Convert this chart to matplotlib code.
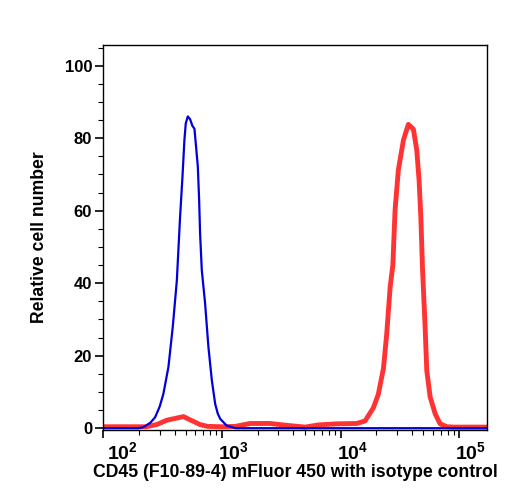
"""
Flow cytometry overlay: CD45 (F10-89-4) mFluor 450 vs isotype control.
Values read off the reference picture (log x axis).
"""

import numpy as np
import matplotlib

matplotlib.use("Agg")
import matplotlib.pyplot as plt
import matplotlib.transforms as mtrans
from matplotlib.ticker import LogLocator, MultipleLocator, NullFormatter

plt.rcParams["font.family"] = ["Liberation Sans", "DejaVu Sans"]
plt.rcParams["mathtext.fontset"] = "custom"
plt.rcParams["mathtext.rm"] = "Liberation Sans:bold"
plt.rcParams["mathtext.bf"] = "Liberation Sans:bold"

# isotype control (blue)
iso_x = [100, 200, 219, 250, 274, 300, 322, 355, 386, 418, 445, 466, 484, 497,
         517, 541, 565, 588, 607, 628, 644, 656, 678, 723, 771, 824, 879, 925,
         968, 1100, 1300, 175000]
iso_y = [0.0, 0.0, 0.3, 1.5, 3.0, 6.0, 9.5, 16.9, 27.9, 40.8, 58.3, 69.3, 79.5,
         84.1, 86.0, 85.2, 83.4, 82.6, 77.6, 72.1, 62.9, 53.7, 43.6, 34.4, 22.4,
         13.2, 6.7, 4.0, 2.6, 0.7, 0.0, 0.0]

# CD45 stained (red)
cd45_x = [100, 230, 283, 344, 418, 475, 541, 656, 760, 1000, 1300, 1730, 2550,
          3500, 5040, 6500, 9300, 13700, 16100, 18900, 20800, 23000, 24500,
          26200, 27600, 28800, 30700, 33900, 37300, 41100, 43900, 45900, 47500,
          49000, 51600, 53300, 56900, 62700, 69000, 78700, 90000, 175000]
cd45_y = [0.4, 0.4, 1.0, 2.2, 2.8, 3.2, 2.3, 1.0, 0.5, 0.4, 0.5, 1.3, 1.3,
          0.8, 0.3, 0.9, 1.2, 1.3, 2.0, 5.6, 9.3, 16.5, 26.0, 39.0, 45.0, 60.1,
          71.2, 79.5, 83.8, 82.5, 76.7, 68.4, 58.3, 44.5, 27.9, 15.9, 8.6, 4.0,
          1.2, 0.4, 0.3, 0.3]

x_ticks = [1e2, 1e3, 1e4, 1e5]
x_labels = [r"$\mathbf{10^{2}}$", r"$\mathbf{10^{3}}$",
            r"$\mathbf{10^{4}}$", r"$\mathbf{10^{5}}$"]
y_ticks = [0, 20, 40, 60, 80, 100]

fig = plt.figure(figsize=(5.08, 5.0), dpi=100)
ax = fig.add_axes([0.203, 0.14, 0.756, 0.77])

ax.plot(cd45_x, cd45_y, color="#ff3333", lw=3.5, solid_joinstyle="round")
ax.plot(iso_x, iso_y, color="#0000dd", lw=1.6, solid_joinstyle="round")

ax.set_xscale("log")
ax.set_xlim(100, 172000)
ax.set_ylim(-0.5, 105.7)

ax.set_xticks(x_ticks)
ax.set_xticklabels(x_labels)
ax.xaxis.set_minor_locator(LogLocator(base=10, subs=np.arange(2, 10)))
ax.xaxis.set_minor_formatter(NullFormatter())
ax.set_yticks(y_ticks)
ax.yaxis.set_minor_locator(MultipleLocator(5))

ax.tick_params(which="major", direction="out", length=6, width=1.2)
ax.tick_params(which="minor", direction="out", length=3.5, width=0.8)
ax.tick_params(axis="y", labelsize=12, pad=2)
ax.tick_params(axis="x", labelsize=14, pad=2)
for lbl in ax.get_yticklabels():
    lbl.set_fontweight("bold")

# x labels start roughly under the tick (first one nudged right)
for i, lbl in enumerate(ax.get_xticklabels()):
    dx = 4 if i == 0 else -4
    lbl.set_horizontalalignment("left")
    lbl.set_transform(lbl.get_transform() +
                      mtrans.ScaledTranslation(dx / 100, 0, fig.dpi_scale_trans))

for sp in ax.spines.values():
    sp.set_linewidth(1.0)

ax.set_xlabel("CD45 (F10-89-4) mFluor 450 with isotype control",
              fontsize=12.7, fontweight="bold", labelpad=1)
ax.set_ylabel("Relative cell number", fontsize=12.7, fontweight="bold",
              labelpad=12)

fig.savefig("out.png", dpi=100)
